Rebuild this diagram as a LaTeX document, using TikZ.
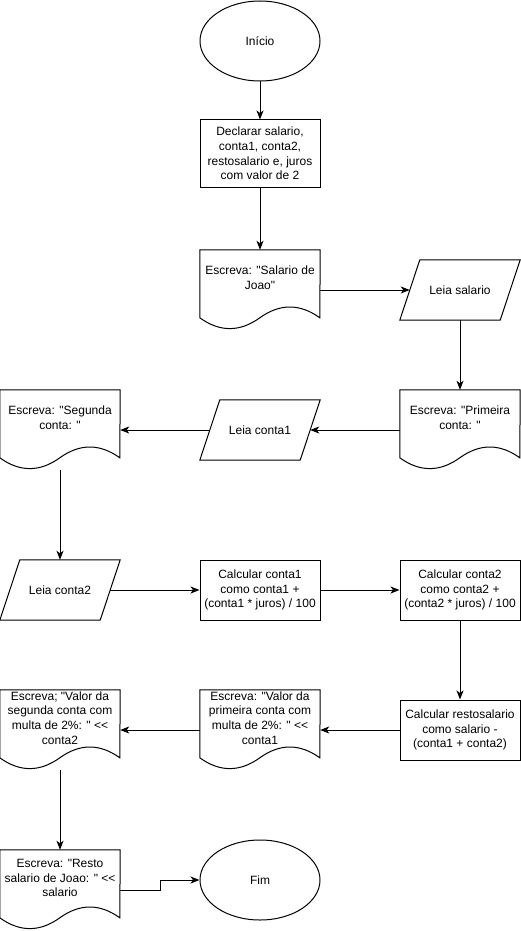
\documentclass[tikz,border=0pt]{standalone}
\usepackage{fontspec}
\setmainfont{Liberation Sans}[Ligatures=TeXOff]
\usetikzlibrary{shapes.geometric,arrows.meta,calc}
\newcommand{\lt}{<\kern0pt<}
\begin{document}
\begin{tikzpicture}[x=1pt,y=-1pt,
  txt/.style={align=center,font=\fontsize{12}{14.6}\selectfont,inner sep=0pt},
  outl/.style={draw=black,line width=1pt},
  boxnode/.style={txt,outl,rectangle,minimum width=120pt,minimum height=60pt},
  ellnode/.style={txt,outl,ellipse,minimum width=120pt,minimum height=80pt},
  docbbox/.style={rectangle,minimum width=120pt,minimum height=80pt,inner sep=0pt},
  parbbox/.style={txt,rectangle,minimum width=120pt,minimum height=60pt},
  arr/.style={line width=1pt,-{Stealth[length=9pt,width=7pt,inset=2.5pt]}}
]
\useasboundingbox (0,0) rectangle (521,931);

\newcommand{\docnode}[4]{%
  \node[docbbox] (#1) at (#2,#3+40) {};
  \draw[outl,line join=miter] (#1.north west) -- (#1.north east)
    -- ($(#1.north west)+(120,68)$)
    .. controls ($(#1.north west)+(100,53.6)$) and ($(#1.north west)+(80,53.6)$) .. ($(#1.north west)+(60,68)$)
    .. controls ($(#1.north west)+(40,82.4)$) and ($(#1.north west)+(20,82.4)$) .. ($(#1.north west)+(0,68)$)
    -- cycle;
  \node[txt] (#1t) at (#2,#3+28) {#4};
}
\newcommand{\parnode}[4]{%
  \node[parbbox] (#1) at (#2,#3) {#4};
  \draw[outl] (#1.south west) -- ([xshift=20pt]#1.north west) -- (#1.north east)
    -- ([xshift=-20pt]#1.south east) -- cycle;
}

% nodes
\node[ellnode] (start) at (260,41) {Início};
\node[boxnode,minimum height=67pt] (decl) at (260,153.5) {Declarar salario,\\conta1, conta2,\\restosalario e, juros\\com valor de 2};
\docnode{d1}{260}{250}{Escreva: "Salario de\\Joao"}
\parnode{p1}{460}{290}{Leia salario}
\docnode{d2}{460}{390}{Escreva: "Primeira\\conta: "}
\parnode{p2}{260}{430}{Leia conta1}
\docnode{d3}{60}{390}{Escreva: "Segunda\\conta: "}
\parnode{p3}{60}{590}{Leia conta2}
\node[boxnode] (c1) at (260,590) {Calcular conta1\\como conta1 +\\(conta1 * juros) / 100};
\node[boxnode] (c2) at (460,590) {Calcular conta2\\como conta2 +\\(conta2 * juros) / 100};
\node[boxnode] (c3) at (460,730) {Calcular restosalario\\como salario -\\(conta1 + conta2)};
\docnode{d4}{260}{690}{Escreva: "Valor da\\primeira conta com\\multa de 2\%: " \lt\\conta1}
\docnode{d5}{60}{690}{Escreva; "Valor da\\segunda conta com\\multa de 2\%: " \lt\\conta2}
\docnode{d6}{60}{850}{Escreva: "Resto\\salario de Joao: " \lt\\salario}
\node[ellnode] (end) at (260,880) {Fim};

% connectors
\draw[arr] (start) -- (decl);
\draw[arr] (decl) -- (d1.north);
\draw[arr] (d1.east) -- ([xshift=10pt]p1.west);
\draw[arr] (p1.south) -- (d2.north);
\draw[arr] (d2.west) -- ([xshift=-10pt]p2.east);
\draw[arr] ([xshift=10pt]p2.west) -- (d3.east);
\draw[arr] (d3.south) -- (p3.north);
\draw[arr] ([xshift=-10pt]p3.east) -- (c1.west);
\draw[arr] (c1) -- (c2);
\draw[arr] (c2) -- (c3);
\draw[arr] (c3) -- (d4.east);
\draw[arr] (d4.west) -- (d5.east);
\draw[arr] (d5.south) -- (d6.north);
\draw[arr] (d6.east) -- ++(40,0) |- (end.west);
\end{tikzpicture}
\end{document}
